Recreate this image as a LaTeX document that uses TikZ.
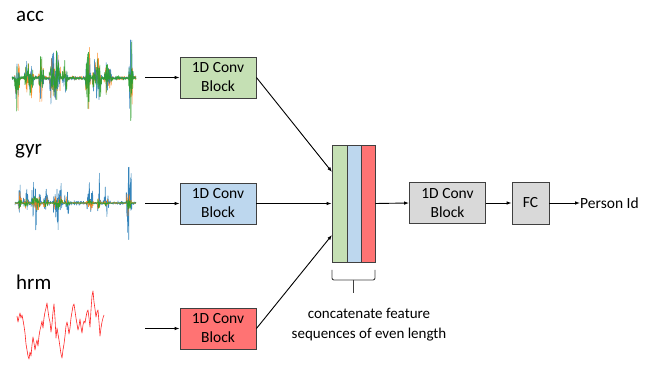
\documentclass[tikz,border=0pt]{standalone}
\usepackage{fontspec}
\setmainfont{Carlito}
\usetikzlibrary{arrows.meta}
\definecolor{cgreen}{RGB}{197,224,180}
\definecolor{cblue}{RGB}{189,215,238}
\definecolor{cred}{RGB}{255,115,115}
\definecolor{cgray}{RGB}{217,217,217}
\definecolor{bord}{RGB}{64,64,64}
\definecolor{pblue}{RGB}{31,119,180}
\definecolor{porange}{RGB}{255,127,14}
\definecolor{pgreen}{RGB}{44,160,44}
\tikzset{
  box/.style={draw=bord, line width=0.9pt, minimum width=76pt, minimum height=41pt,
    align=center, inner sep=0pt, font=\fontsize{15.5}{19}\selectfont},
  strip/.style={draw=bord, line width=0.9pt, minimum height=117pt, inner sep=0pt},
  arr/.style={-{Latex[length=5pt,width=3.6pt]}, line width=0.9pt, black},
  lab/.style={font=\fontsize{21}{24}\selectfont, inner sep=0pt},
  txt/.style={font=\fontsize{15.5}{19}\selectfont, inner sep=0pt},
  sig/.style={line width=0.6pt, line join=round},
}
\begin{document}
\begin{tikzpicture}[x=1pt,y=-1pt,
  declare function={
    bp(\xx,\cen,\wid)=max(0,min(1,(\wid-abs(\xx-\cen))/2));
    accenv(\xx)=2+30*bp(\xx,17,3)+15*bp(\xx,29,5)+22*bp(\xx,41,3)+26*bp(\xx,55,6)+15*bp(\xx,65,3)+32*bp(\xx,88,3)+20*bp(\xx,97,5)+14*bp(\xx,108,4)+45*bp(\xx,131,2.5);
    gyrenv(\xx)=2+32*bp(\xx,20,2)+14*bp(\xx,26,3)+28*bp(\xx,36,5)+18*bp(\xx,46,3)+22*bp(\xx,58,5)+14*bp(\xx,67,3)+16*bp(\xx,90,4)+30*bp(\xx,99,2)+12*bp(\xx,106,3)+58*bp(\xx,129,3);
  }]
\useasboundingbox (0,0) rectangle (657,366);

% labels
\node[lab, anchor=base west] (lacc) at (16,22) {acc};
\node[lab, anchor=base west] (lgyr) at (15,155) {gyr};
\node[lab, anchor=base west] (lhrm) at (16,290) {hrm};

% acc signal
\pgfmathsetseed{11}
\draw[sig, porange, opacity=0.9] plot[domain=12:136, samples=450] (\x,{78+1.3*accenv(\x)*rand*abs(rand)});
\pgfmathsetseed{23}
\draw[sig, pblue, opacity=0.8] plot[domain=12:136, samples=450] (\x,{78+1.2*accenv(\x)*rand*abs(rand)});
\pgfmathsetseed{37}
\draw[sig, pgreen, opacity=0.9] plot[domain=12:136, samples=450] (\x,{78+1.3*accenv(\x)*rand*abs(rand)});

% gyr signal
\pgfmathsetseed{41}
\draw[sig, pblue, opacity=0.9] plot[domain=15:136, samples=450] (\x,{203+1.3*gyrenv(\x)*rand*abs(rand)});
\pgfmathsetseed{53}
\draw[sig, porange, opacity=0.85] plot[domain=15:136, samples=350] (\x,{203+0.45*gyrenv(\x)*rand*abs(rand)});
\pgfmathsetseed{67}
\draw[sig, pgreen, opacity=0.95] plot[domain=15:136, samples=350] (\x,{203+0.3*gyrenv(\x)*rand*abs(rand)});

% hrm signal
\draw[line width=0.6pt, red!85, line join=round] plot coordinates {
 (17,316) (18,322) (19,317) (20,313) (21,318) (22,315) (23,320) (24,326) (25,333) (26,344) (27,350) (28,356) (29,359) (30,352) (31,356) (32,345) (33,337) (34,343) (35,350) (36,344) (37,340) (38,346) (39,336) (40,330) (41,326) (42,321) (43,328) (44,318) (45,312) (46,308) (47,303) (48,311) (49,318) (50,322) (51,332) (52,324) (53,312) (54,304) (55,318) (56,338) (57,328) (58,334) (59,340) (60,347) (61,354) (62,358) (63,350) (64,344) (65,336) (66,326) (67,322) (68,327) (69,334) (70,328) (71,318) (72,312) (73,306) (74,304) (75,311) (76,318) (77,324) (78,330) (79,326) (80,319) (81,327) (82,333) (83,325) (84,321) (85,323) (86,317) (87,312) (88,310) (89,318) (90,327) (91,310) (92,296) (93,291) (94,302) (95,309) (96,317) (97,312) (98,310) (99,322) (100,336) (101,328) (102,322) (103,318) (104,315)};

% conv blocks
\node[box, fill=cgreen] (c1) at (218,77.5) {1D Conv\\Block};
\node[box, fill=cblue] (c2) at (218,203.5) {1D Conv\\Block};
\node[box, fill=cred] (c3) at (218,328.5) {1D Conv\\Block};

% concatenated strips
\node[strip, fill=cgreen, minimum width=15pt] (sg) at (339.5,203.5) {};
\node[strip, fill=cblue, minimum width=14pt] (sb) at (354,203.5) {};
\node[strip, fill=cred, minimum width=14pt] (sr) at (368,203.5) {};

% later blocks
\node[box, fill=cgray] (c4) at (447.5,203) {1D Conv\\Block};
\node[box, fill=cgray, minimum width=37pt, minimum height=42pt] (fc) at (530.5,203) {FC};
\node[txt, anchor=west] (pid) at (580,203) {Person Id};

% inputs to conv blocks
\coordinate (s1) at (145,77.5);
\coordinate (s2) at (145,203.5);
\coordinate (s3) at (145,328.5);
\draw[arr] (s1) -- (c1.west);
\draw[arr] (s2) -- (c2.west);
\draw[arr] (s3) -- (c3.west);

% conv blocks to concatenation
\coordinate (t1) at (332,172);
\coordinate (t3) at (332,235);
\draw[arr] (c1.east) -- (t1);
\draw[arr] (c2.east) -- (sg.west);
\draw[arr] (c3.east) -- (t3);

\draw[arr] (sr.east) -- (c4.west);
\draw[arr] (c4.east) -- (fc.west);
\draw[arr] (fc.east) -- (pid.west);

% brace
\draw[line width=0.9pt, bord, rounded corners=2pt] (332,270) -- (332,280) -- (375,280) -- (375,270);
\draw[line width=0.9pt, bord] (353.5,280) -- (353.5,293);

% caption
\node[txt, align=center, font=\fontsize{15}{20}\selectfont] (cap) at (369,325)
  {concatenate feature\\sequences of even length};
\end{tikzpicture}
\end{document}
